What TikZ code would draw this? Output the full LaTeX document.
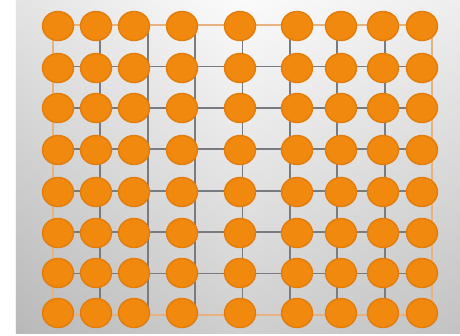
\documentclass[tikz,border=0pt]{standalone}
\usepackage{tikz}
\usetikzlibrary{shapes.geometric}
\usepackage{xcolor}
\definecolor{dotorg}{RGB}{241,137,14}
\definecolor{dotedge}{RGB}{226,124,10}
\definecolor{gridgry}{RGB}{120,123,128}
\definecolor{rimtan}{RGB}{230,178,128}

\tikzset{
  dot/.style={ellipse, draw=dotedge, line width=0.4pt, fill=dotorg,
              minimum width=0.31cm, minimum height=0.29cm, inner sep=0pt},
  gridline/.style={draw=gridgry, line width=0.5pt},
  rimline/.style={draw=rimtan, line width=0.5pt}
}

\begin{document}
\begin{tikzpicture}[x=0.01cm, y=-0.01cm]
        \useasboundingbox (0,0) rectangle (460,335);
        \fill[white] (0,0) rectangle (460,335);
        % backdrop
        \shade[top color=gray!5, bottom color=gray!62] (16,0) rectangle (460,333);
        \shade[left color=gray!45, right color=gray!25, middle color=white, opacity=0.4]
          (16,0) rectangle (460,333);
        % inner grid
        \foreach \i in {1,...,7}
          \draw[gridline] ({53+47.375*\i},25) -- ({53+47.375*\i},315);
        \foreach \j in {1,...,6}
          \draw[gridline] (53,{25+41.43*\j}) -- (432,{25+41.43*\j});
        % outer rim
        \draw[rimline] (53,25) rectangle (432,315);
        % dots
        \foreach \x [count=\c] in {58,96,134,182,240,297,341,383,422}
          \foreach \y [count=\r] in {26,68,108,150,192,233,273,313}
            \node[dot] (d\c-\r) at (\x,\y) {};
      \end{tikzpicture}
\end{document}
